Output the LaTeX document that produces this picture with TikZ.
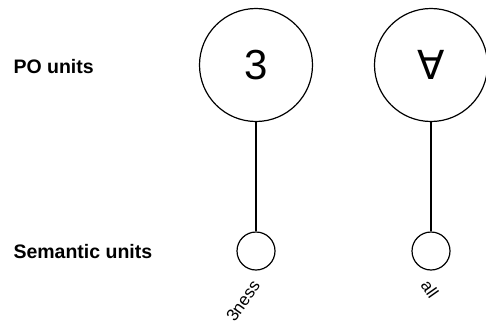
\documentclass[tikz,border=0pt]{standalone}
\usepackage{fontspec}
\setmainfont{Liberation Sans}
\newfontfamily\symfont{DejaVu Sans}
\usetikzlibrary{positioning}

\begin{document}
\begin{tikzpicture}[
    x=1pt, y=-1pt,
    every node/.style={font=\fontsize{17}{20}\selectfont},
    pounit/.style={circle, draw, line width=1.2pt, minimum size=113pt, inner sep=0pt, font=\fontsize{42}{48}\selectfont},
    semunit/.style={circle, draw, line width=1.2pt, minimum size=38pt, inner sep=0pt},
    rowlabel/.style={anchor=west, font=\fontsize{19.5}{22}\selectfont\bfseries},
    link/.style={line width=1.2pt}
]
\useasboundingbox (0, 0) rectangle (486, 329);

\node[pounit] (po3) at (256, 65) {3};
\node[pounit] (poall) at (431, 65) {\symfont\fontsize{40}{46}\selectfont ∀};
\node[semunit] (sem3) at (256, 251) {};
\node[semunit] (semall) at (431, 251) {};

\draw[link] (po3) -- (sem3);
\draw[link] (poall) -- (semall);

\node[rotate=55] (lab3) at (243, 301) {3ness};
\node[rotate=-55] (laball) at (430, 289) {all};

\node[rowlabel] (polabel) at (10, 67) {PO units};
\node[rowlabel] (semlabel) at (10, 252) {Semantic units};
\end{tikzpicture}
\end{document}
